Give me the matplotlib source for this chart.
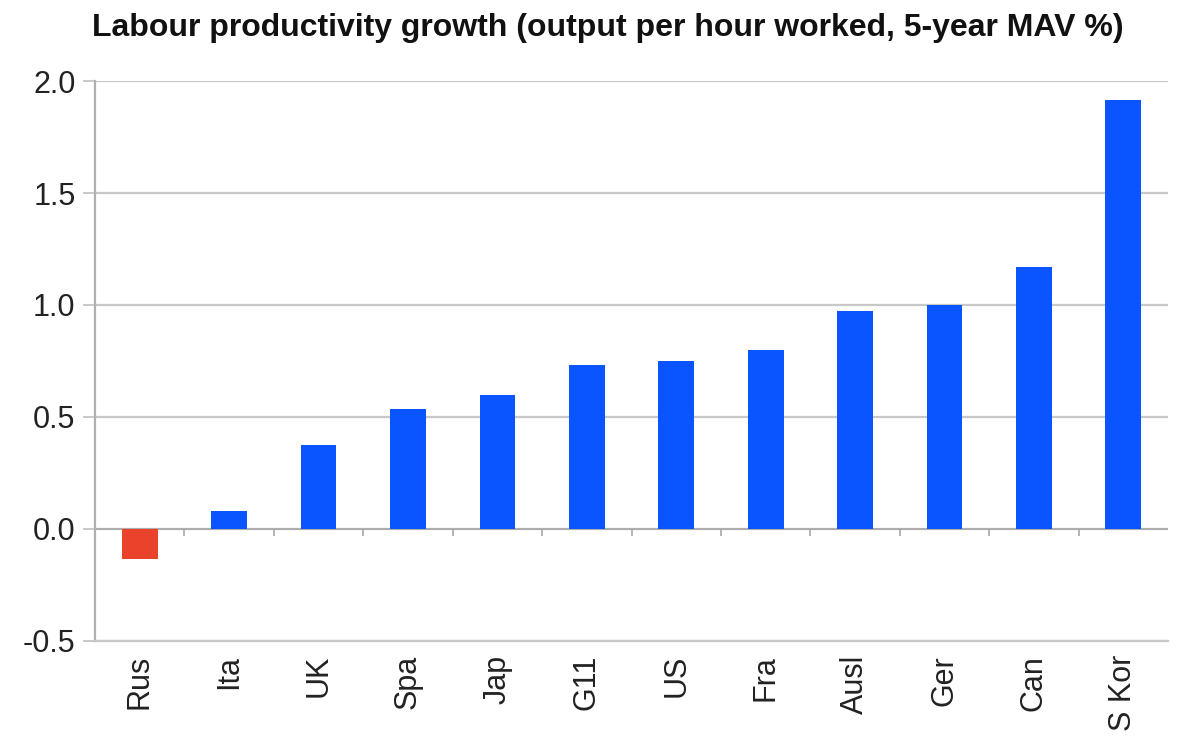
import matplotlib; matplotlib.use("Agg")
import matplotlib.pyplot as plt
import numpy as np

plt.rcParams["font.family"] = ["Liberation Sans", "DejaVu Sans"]

countries = ["Rus", "Ita", "UK", "Spa", "Jap", "G11", "US", "Fra", "Ausl", "Ger", "Can", "S Kor"]
growth = [-0.135, 0.08, 0.375, 0.535, 0.60, 0.73, 0.75, 0.80, 0.975, 1.0, 1.17, 1.915]
BLUE = "#0A55FF"; RED = "#EA432C"; GRID = "#C8C8C8"

fig = plt.figure(figsize=(11.79, 7.46), dpi=100)
ax = fig.add_axes([0.0806, 0.1408, 0.9101, 0.7506])
x = np.arange(len(countries))
colors = [RED if v < 0 else BLUE for v in growth]
ax.bar(x, growth, width=0.4, color=colors, zorder=3)

ax.set_ylim(-0.5, 2.0); ax.set_xlim(-0.5, len(countries) - 0.5)
ax.set_yticks(np.arange(-0.5, 2.01, 0.5))
ax.set_yticklabels([f"{v:.1f}" for v in np.arange(-0.5, 2.01, 0.5)])
ax.yaxis.grid(True, color=GRID, lw=1.6, zorder=0)
ax.axhline(0, color="#A8A8A8", lw=1.2, zorder=2)
# tick marks between categories on the zero line
ax.vlines(x[:-1] + 0.5, -0.03, 0, color="#A8A8A8", lw=1.2, zorder=2)

ax.set_xticks(x)
ax.set_xticklabels(countries, rotation=90, fontsize=22, color="#222")
ax.tick_params(axis="x", length=0, pad=10)
ax.tick_params(axis="y", length=9, width=1.4, color=GRID, labelsize=22, labelcolor="#222", pad=5)
for s in ["top", "right"]: ax.spines[s].set_visible(False)
ax.spines["left"].set_color("#B0B0B0"); ax.spines["left"].set_linewidth(1.6)
ax.spines["bottom"].set_color(GRID); ax.spines["bottom"].set_linewidth(1.6)

fig.text(0.078, 0.963, "Labour productivity growth (output per hour worked, 5-year MAV %)",
         fontsize=23, fontweight="bold", va="center", ha="left", color="#111")
fig.savefig("out.png", dpi=100)
